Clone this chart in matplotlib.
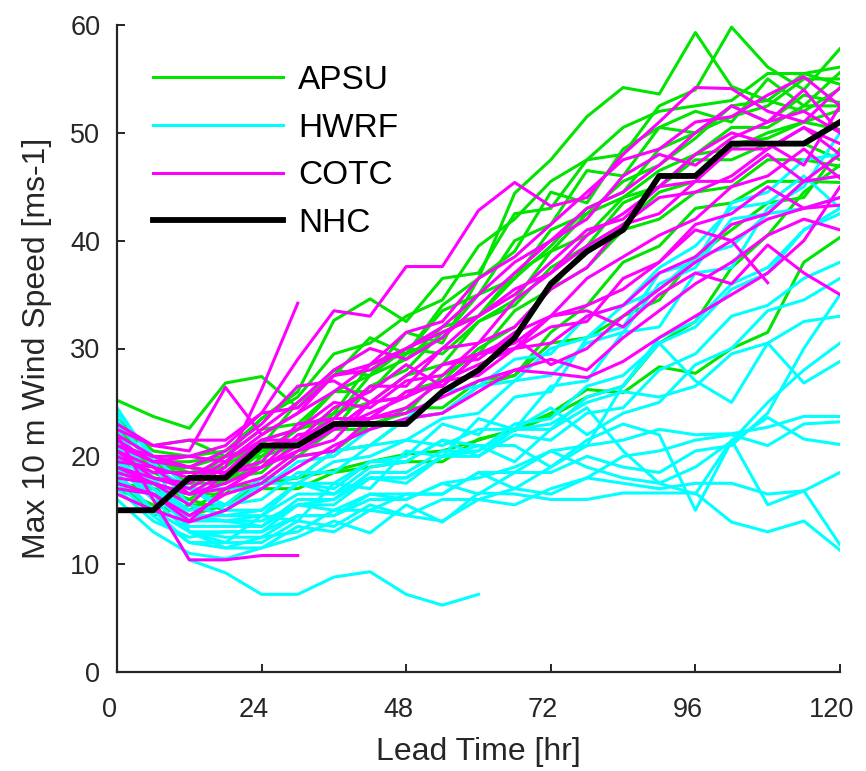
import numpy as np
import matplotlib
matplotlib.use("Agg")
import matplotlib.pyplot as plt
from matplotlib.transforms import ScaledTranslation

plt.rcParams['font.family'] = ['Liberation Sans', 'DejaVu Sans']

nan = np.nan
lead_hours = list(range(0, 121, 6))

apsu = [
    [25.2,23.7,22.6,26.8,27.4,24.5,28.0,27.5,31.5,30.5,36.5,39.0,44.5,43.5,48.5,50.5,52.0,51.0,55.0,52.5,55.6],
    [22.0,21.0,21.5,20.0,23.5,26.0,32.6,34.6,32.5,36.5,37.0,42.5,43.0,47.5,48.0,52.5,54.0,59.8,56.1,54.0,57.8],
    [20.5,18.5,19.0,20.0,21.0,25.0,27.5,31.0,29.5,34.0,36.5,44.4,47.5,51.5,54.2,53.6,59.3,54.3,53.0,55.5,56.1],
    [19.5,18.5,17.0,19.5,20.0,22.5,24.0,28.5,29.5,33.5,35.0,40.0,41.5,46.5,46.0,50.5,50.0,51.5,52.5,55.0,55.0],
    [21.0,19.5,19.5,20.0,22.5,23.0,26.0,26.0,29.5,31.0,35.0,36.5,41.0,42.5,45.5,47.0,49.5,52.5,53.0,52.0,54.1],
    [18.5,17.5,16.0,18.0,18.5,21.5,22.5,26.5,28.0,31.5,33.0,37.0,39.0,42.5,44.0,46.5,48.0,50.5,50.5,52.5,52.5],
    [20.0,18.0,17.5,17.5,20.5,21.0,24.0,25.0,27.5,28.5,32.5,34.0,37.5,39.5,43.5,45.0,48.0,48.5,50.0,51.0,52.1],
    [17.5,17.0,15.0,17.0,17.5,20.0,20.5,23.0,24.0,27.5,29.5,33.5,35.5,39.5,41.5,44.5,45.5,49.0,49.5,51.0,50.3],
    [22.5,19.5,18.5,19.0,21.5,22.5,26.0,27.5,30.0,29.5,32.5,34.5,39.0,40.5,44.0,45.0,47.5,47.5,49.0,49.0,47.5],
    [19.0,17.0,16.5,16.5,20.0,21.0,23.0,23.5,26.0,27.0,30.0,32.0,35.5,37.5,41.0,42.0,44.5,45.0,47.5,47.5,46.9],
    [18.0,14.5,15.5,15.5,18.0,18.0,20.5,21.0,23.5,24.0,26.5,27.5,31.5,34.0,38.0,39.5,43.0,43.5,45.5,45.5,45.4],
    [21.5,19.0,19.0,17.5,19.5,20.0,22.5,22.5,24.5,24.5,27.0,27.5,30.5,31.0,33.0,34.5,38.5,41.0,43.5,44.0,48.5],
    [17.0,15.5,14.5,15.5,17.5,18.0,18.7,19.5,20.2,20.5,21.5,22.5,24.0,26.2,25.9,28.3,27.7,30.0,31.5,38.0,40.3],
    [19.0,16.5,16.0,15.0,17.0,17.0,18.5,19.0,19.5,19.5,21.6,22.4,23.7,25.5,26.5,30.5,32.5,37.5,40.5,44.5,47.0],
    [23.5,20.5,20.0,20.5,23.5,25.5,29.5,30.5,33.0,34.5,39.5,42.0,45.5,47.5,50.5,52.0,52.5,53.0,55.5,55.5,54.5],
    [20.0,19.5,17.5,20.0,20.5,22.5,23.5,27.5,29.0,32.0,33.0,36.5,39.5,43.0,44.5,48.5,50.0,52.5,51.0,53.5,52.8],
]

hwrf = [
    [20.0,16.0,10.4,9.2,7.2,7.2,8.8,9.3,7.2,6.2,7.2,nan,nan,nan,nan,nan,nan,nan,nan,nan,nan],
    [24.5,19.5,13.0,12.0,14.5,14.0,17.5,17.0,20.5,20.0,23.5,22.5,26.5,27.0,31.5,32.0,37.0,37.5,43.0,45.0,50.0],
    [22.0,18.0,14.5,14.0,14.5,17.5,17.0,19.5,20.0,23.0,22.0,25.5,26.0,31.0,32.0,37.0,38.0,43.5,44.5,47.5,48.0],
    [21.0,17.5,15.0,15.5,16.0,18.5,18.5,21.0,21.5,23.5,24.0,27.0,27.5,30.5,31.5,36.0,37.5,42.0,42.5,45.5,46.0],
    [23.5,19.0,17.0,15.5,18.0,18.0,20.5,21.0,23.5,24.0,26.5,27.0,30.0,31.0,34.0,35.5,38.5,39.5,42.5,43.0,44.0],
    [19.5,16.5,13.5,13.5,13.5,16.0,16.0,18.5,18.5,20.5,20.5,22.5,22.5,25.5,26.5,31.0,32.5,36.0,37.5,41.0,43.0],
    [18.0,15.0,13.0,13.0,13.0,15.5,15.5,18.0,18.0,20.0,20.0,22.0,21.5,24.0,24.5,28.0,29.5,33.0,34.0,36.5,38.0],
    [21.5,18.0,17.0,15.0,17.5,17.5,19.5,20.0,21.5,21.0,22.5,22.5,24.5,22.0,24.0,25.0,28.5,30.0,33.5,34.5,36.5],
    [20.5,17.0,14.0,15.0,15.0,17.5,17.5,19.5,19.5,21.5,20.0,22.5,23.0,25.0,26.0,25.5,26.5,29.5,30.5,32.5,33.0],
    [22.5,18.0,13.0,11.5,12.5,13.0,15.0,15.0,16.5,16.5,18.5,17.0,19.0,21.0,26.6,30.5,27.0,25.0,30.5,26.8,28.8],
    [19.0,16.0,13.0,12.5,12.5,14.5,14.5,16.5,16.5,16.5,18.5,18.5,20.5,21.0,21.5,22.5,22.0,22.1,22.7,23.7,23.7],
    [17.5,14.5,12.0,12.0,12.0,14.0,13.5,15.5,14.5,14.0,16.0,15.5,17.0,18.0,20.0,20.5,21.5,22.0,21.0,23.0,23.2],
    [23.0,19.5,15.5,14.5,14.5,16.5,16.5,18.0,17.5,20.0,21.0,19.5,22.5,24.5,20.5,17.5,19.0,21.4,23.6,21.6,21.1],
    [20.0,16.5,14.0,14.0,14.0,15.5,15.0,16.5,16.0,17.5,18.0,19.0,20.5,19.0,18.0,17.5,16.5,21.5,15.5,16.8,18.5],
    [18.5,15.0,12.0,11.5,11.5,13.5,13.0,15.0,14.5,16.0,16.0,17.0,16.5,18.0,17.5,17.0,17.5,17.5,16.5,16.8,11.8],
    [16.0,13.0,11.0,10.5,11.5,12.5,14.0,12.9,15.5,13.9,16.6,16.5,16.0,16.0,16.6,16.6,16.6,13.9,13.0,14.0,11.3],
    [21.0,17.0,14.5,14.0,13.5,15.5,16.0,18.0,18.0,20.0,20.5,23.0,23.5,26.5,27.5,30.5,32.0,35.5,37.0,41.0,42.5],
    [24.0,20.0,17.0,17.0,17.0,19.5,20.0,22.5,23.5,26.0,26.5,29.0,29.5,33.0,34.0,37.5,39.5,43.0,43.5,46.0,43.0],
    [19.0,16.0,14.5,14.5,15.0,17.5,16.5,19.0,19.5,21.5,21.0,21.0,19.0,21.5,23.0,22.0,15.0,21.4,25.0,28.0,30.5],
    [17.0,14.0,12.5,13.0,13.0,14.5,14.5,16.0,16.0,17.5,16.5,18.5,18.5,20.0,19.0,18.5,20.5,21.0,24.0,30.0,35.0],
]

cotc = [
    [22.0,16.0,10.4,10.4,10.8,10.8,nan,nan,nan,nan,nan,nan,nan,nan,nan,nan,nan,nan,nan,nan,nan],
    [20.5,18.0,17.0,19.0,26.2,34.2,nan,nan,nan,nan,nan,nan,nan,nan,nan,nan,nan,nan,nan,nan,nan],
    [21.0,19.5,20.0,21.0,24.0,29.0,33.5,33.0,37.6,37.6,42.8,45.4,43.2,44.0,48.0,51.0,54.2,54.1,52.0,51.0,54.2],
    [23.0,21.0,21.5,21.5,24.0,24.5,27.5,28.5,31.5,32.5,36.5,38.5,41.5,44.5,47.5,48.5,51.0,51.5,53.5,55.2,52.5],
    [19.0,18.0,17.5,19.5,22.0,24.0,27.5,28.0,30.0,32.0,35.0,38.0,40.0,42.0,46.0,48.0,47.0,49.5,51.0,54.0,50.0],
    [18.0,17.5,15.5,18.5,19.5,23.0,23.5,26.5,26.5,30.0,30.5,34.5,37.0,40.5,42.5,45.0,45.5,48.5,48.5,50.5,48.0],
    [21.5,19.5,19.0,18.5,21.5,22.5,25.0,24.5,27.0,27.5,30.5,32.0,35.5,37.5,41.5,42.5,45.5,45.5,48.0,45.5,46.0],
    [17.5,16.5,14.0,17.0,18.0,20.5,21.5,25.0,25.5,28.5,29.0,31.5,33.0,36.5,38.5,40.5,42.0,45.0,46.0,48.5,45.8],
    [20.0,18.5,18.5,18.5,21.0,21.5,23.5,23.5,26.0,26.5,29.5,30.0,32.0,32.5,36.5,38.0,41.5,42.5,45.0,43.0,44.0],
    [19.5,19.0,16.5,18.5,19.0,22.0,22.5,25.0,25.5,28.5,29.5,31.0,28.5,30.0,33.0,35.5,38.0,40.0,42.0,43.0,43.3],
    [16.5,15.0,13.9,15.0,17.0,19.0,21.0,22.5,23.5,24.0,26.0,28.0,29.0,28.0,31.0,33.5,36.0,38.0,40.5,42.0,41.0],
    [22.0,20.0,20.0,19.5,21.5,21.5,24.5,26.0,28.5,26.5,29.5,30.5,33.0,33.5,32.0,35.0,37.0,36.0,39.6,37.0,35.0],
    [18.5,17.5,16.5,17.5,19.0,20.5,22.5,24.0,25.5,27.0,28.5,30.0,33.0,34.0,35.5,38.0,41.0,40.0,36.1,nan,nan],
    [20.5,19.0,18.0,20.0,22.5,25.0,28.0,30.0,29.0,31.0,34.0,37.0,40.0,43.0,44.5,47.0,50.0,52.5,51.0,52.0,50.0],
    [19.0,17.5,16.5,17.0,19.0,21.0,22.5,23.5,24.0,25.5,27.0,28.0,27.7,27.3,28.8,31.0,33.0,35.0,37.0,40.0,45.0],
    [21.0,20.0,19.0,20.5,23.0,26.5,27.0,25.0,27.5,30.0,33.0,35.0,38.0,41.0,42.0,45.0,48.0,50.0,49.0,47.0,52.5],
    [17.0,16.5,14.5,16.5,17.5,20.0,20.5,23.5,24.5,27.0,27.5,30.0,30.5,33.0,34.0,37.0,38.5,41.5,42.5,45.5,48.0],
    [22.5,21.0,20.5,26.4,22.0,24.0,26.0,28.5,30.0,31.5,33.0,35.5,37.0,39.5,41.5,44.0,44.5,46.0,48.5,50.5,49.0],
]

nhc = [15, 15, 18, 18, 21, 21, 23, 23, 23, 26, 28, 31, 36, 39, 41, 46, 46, 49, 49, 49, 51]

x_ticks = [0, 24, 48, 72, 96, 120]
y_ticks = [0, 10, 20, 30, 40, 50, 60]

fig = plt.figure(figsize=(8.66, 7.71), dpi=100)
ax = fig.add_axes([117/866, 1 - 672/771, 723/866, 647/771])

green = '#00e400'
cyan = '#00ffff'
magenta = '#ff00ff'
lw = 2.2

for i, s in enumerate(apsu):
    ax.plot(lead_hours, s, color=green, lw=lw, label='APSU' if i == 0 else None)
for i, s in enumerate(hwrf):
    ax.plot(lead_hours, s, color=cyan, lw=lw, label='HWRF' if i == 0 else None)
for i, s in enumerate(cotc):
    ax.plot(lead_hours, s, color=magenta, lw=lw, label='COTC' if i == 0 else None)
ax.plot(lead_hours, nhc, color='black', lw=4.2, label='NHC')

ax.set_xlim(0, 120)
ax.set_ylim(0, 60)
ax.set_xticks(x_ticks)
ax.set_yticks(y_ticks)
ax.set_xticklabels([str(v) for v in x_ticks])
ax.set_yticklabels([str(v) for v in y_ticks])

for side in ['top', 'right']:
    ax.spines[side].set_visible(False)
for side in ['left', 'bottom']:
    ax.spines[side].set_color('#262626')
    ax.spines[side].set_linewidth(1.6)

ax.tick_params(direction='in', length=6, width=1.4, color='#262626',
               labelsize=19.5, labelcolor='#262626')
ax.tick_params(axis='x', pad=18)
ax.tick_params(axis='y', pad=12)

ax.set_xlabel('Lead Time [hr]', fontsize=23, color='#262626', labelpad=10)
ax.set_ylabel('Max 10 m Wind Speed [ms-1]', fontsize=23, color='#262626', labelpad=13)

leg = ax.legend(loc='upper left', bbox_to_anchor=(0.05, 0.938), frameon=False,
                fontsize=24, handlelength=3.9, handletextpad=0.45,
                labelspacing=0.5, borderpad=0, borderaxespad=0)

for lab in ax.get_xticklabels():
    lab.set_transform(lab.get_transform() + ScaledTranslation(-8/100, 0, fig.dpi_scale_trans))

fig.savefig('out.png', dpi=100)
